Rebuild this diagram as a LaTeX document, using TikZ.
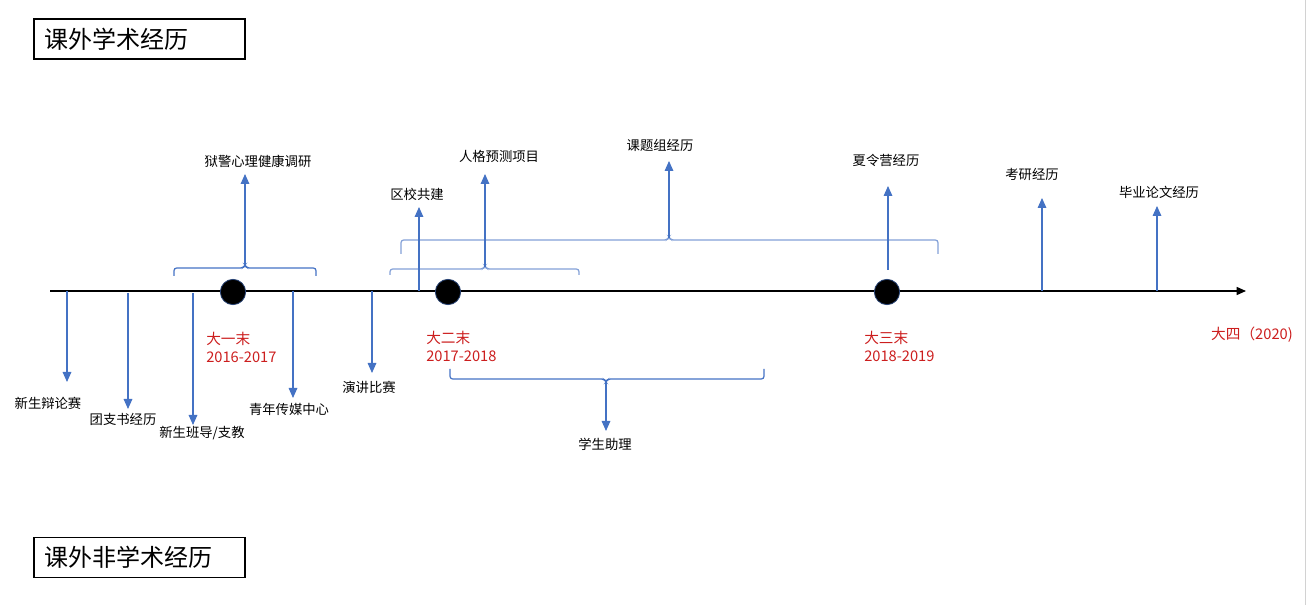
\documentclass[tikz,border=0pt]{standalone}
\usepackage{fontspec}
\setmainfont{Noto Sans CJK SC}
\usetikzlibrary{arrows.meta}
\definecolor{ob}{RGB}{68,114,196}
\definecolor{lb}{RGB}{130,160,215}
\definecolor{rd}{RGB}{204,30,30}
\begin{document}
\begin{tikzpicture}[x=0.75pt,y=-0.75pt,
  lbl/.style={font=\fontsize{10}{12}\selectfont, inner sep=0pt},
  yr/.style={font=\fontsize{11}{13.5}\selectfont, text=rd, inner sep=0pt, anchor=north west, align=left},
  title/.style={draw=black, line width=1.1pt, minimum width=158.25pt, minimum height=30pt, inner xsep=7.5pt, text width=143pt, align=left, font=\fontsize{18}{20}\selectfont},
  conn/.style={draw=ob, line width=0.8pt, -{Triangle[width=6.5pt,length=7.5pt]}},
  brace/.style={draw=#1, line width=0.9pt, rounded corners=2pt},
  dot/.style={circle, fill=black, draw=ob!60!black, line width=0.6pt, minimum size=19pt, inner sep=0pt}]
\useasboundingbox (0,0) rectangle (1307,605);
\draw[gray!35, line width=1pt] (1305.5,0) -- (1305.5,605);

% titles
\node[title] (t1) at (139.5,39) {课外学术经历};
\node[title] (t2) at (139.5,557.5) {课外非学术经历};

% axis
\coordinate (a0) at (50,291);
\coordinate (a1) at (1246,291);
\draw[line width=1.1pt, -{Triangle[width=6pt,length=7pt]}] (a0) -- (a1);

% milestone dots
\node[dot] (d1) at (233,292) {};
\node[dot] (d2) at (448,292) {};
\node[dot] (d3) at (887,292) {};

% year labels
\node[yr] (y1) at (206,332) {大一末\\2016-2017};
\node[yr] (y2) at (426,331) {大二末\\2017-2018};
\node[yr] (y3) at (864,331) {大三末\\2018-2019};
\node[yr, anchor=north east] (y4) at (1293,327) {大四（2020)};

% braces
\draw[brace=ob] (174,276) -- (174,268) -- (243,268) -- (245,265) -- (247,268) -- (316,268) -- (316,276);
\coordinate (b1) at (245,266);
\draw[brace=lb] (390,275) -- (390,269) -- (483,269) -- (485,266) -- (487,269) -- (579,269) -- (579,275);
\coordinate (b2) at (485,267);
\draw[brace=lb] (401,254) -- (401,240) -- (667,240) -- (669,237) -- (671,240) -- (938,240) -- (938,254);
\coordinate (b3) at (669,238);
\draw[brace=ob] (450,369) -- (450,379) -- (604,379) -- (606,382) -- (608,379) -- (764,379) -- (764,369);
\coordinate (b4) at (606,381);

% upper labels and arrows
\node[lbl] (u1) at (258,161) {狱警心理健康调研};
\coordinate (u1t) at (245,174);
\draw[conn] (b1) -- (u1t);

\node[lbl] (u2) at (499,156) {人格预测项目};
\coordinate (u2t) at (485,174);
\draw[conn] (b2) -- (u2t);

\node[lbl] (u3) at (417,194) {区校共建};
\coordinate (u3s) at (419,291);
\coordinate (u3t) at (419,207);
\draw[conn] (u3s) -- (u3t);

\node[lbl] (u4) at (660,145) {课题组经历};
\coordinate (u4t) at (669,161);
\draw[conn] (b3) -- (u4t);

\node[lbl] (u5) at (886,160) {夏令营经历};
\coordinate (u5s) at (888,270);
\coordinate (u5t) at (888,186);
\draw[conn] (u5s) -- (u5t);

\node[lbl] (u6) at (1032,174) {考研经历};
\coordinate (u6s) at (1042,291);
\coordinate (u6t) at (1042,198);
\draw[conn] (u6s) -- (u6t);

\node[lbl] (u7) at (1159,192) {毕业论文经历};
\coordinate (u7s) at (1157,291);
\coordinate (u7t) at (1157,206);
\draw[conn] (u7s) -- (u7t);

% lower labels and arrows
\node[lbl] (l1) at (48,403) {新生辩论赛};
\coordinate (l1s) at (67,291);
\coordinate (l1t) at (67,382);
\draw[conn] (l1s) -- (l1t);

\node[lbl] (l2) at (123,419) {团支书经历};
\coordinate (l2s) at (128,293);
\coordinate (l2t) at (128,409);
\draw[conn] (l2s) -- (l2t);

\node[lbl] (l3) at (202,433) {新生班导/支教};
\coordinate (l3s) at (193,293);
\coordinate (l3t) at (193,425);
\draw[conn] (l3s) -- (l3t);

\node[lbl] (l4) at (289,409) {青年传媒中心};
\coordinate (l4s) at (293,291);
\coordinate (l4t) at (293,398);
\draw[conn] (l4s) -- (l4t);

\node[lbl] (l5) at (369,387) {演讲比赛};
\coordinate (l5s) at (372,291);
\coordinate (l5t) at (372,373);
\draw[conn] (l5s) -- (l5t);

\node[lbl] (l6) at (605,444) {学生助理};
\coordinate (l6t) at (606,431);
\draw[conn] (b4) -- (l6t);
\end{tikzpicture}
\end{document}
